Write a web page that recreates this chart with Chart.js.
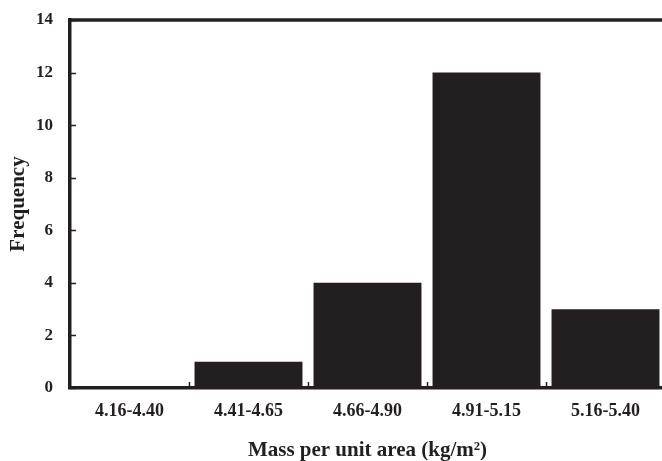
<!DOCTYPE html>
<html><head><meta charset="utf-8">
<script src="https://cdn.jsdelivr.net/npm/chart.js@4/dist/chart.umd.min.js"></script>
<style>html,body{margin:0;padding:0;overflow:hidden;background:#fff}#wrap{width:665px;height:461px;position:relative}</style>
</head><body><div id="wrap"><canvas id="c"></canvas></div>
<script>
const categories = ["4.16-4.40","4.41-4.65","4.66-4.90","4.91-5.15","5.16-5.40"];
const frequency = [0,1,4,12,3];
const yTicks = [0,2,4,6,8,10,12,14];
const xTitle = "Mass per unit area (kg/m\u00B2)";
const yTitle = "Frequency";
const ink = "#231f20";
const font = "'Liberation Serif','Times New Roman',serif";

const frameAndTicks = {
  id:'frameAndTicks',
  afterDatasetsDraw(chart){
    const {ctx, chartArea:a, scales:{x,y}} = chart;
    ctx.save(); ctx.strokeStyle = ink;
    ctx.lineWidth = 3.5;
    ctx.beginPath(); ctx.moveTo(a.left-1.75, a.top); ctx.lineTo(a.right, a.top); ctx.stroke();
    ctx.lineWidth = 1.5;
    yTicks.forEach(v=>{ const py = Math.round(y.getPixelForValue(v))+0.5; ctx.beginPath(); ctx.moveTo(a.left, py); ctx.lineTo(a.left+6, py); ctx.stroke(); });
    for(let i=1;i<categories.length;i++){ const px = Math.round((x.getPixelForValue(i-1)+x.getPixelForValue(i))/2)+0.5; ctx.beginPath(); ctx.moveTo(px, a.bottom); ctx.lineTo(px, a.bottom-6); ctx.stroke(); }
    ctx.restore();
  }
};

new Chart(document.getElementById('c'), {
  type:'bar',
  data:{labels:categories, datasets:[{data:frequency, backgroundColor:ink, borderWidth:0, categoryPercentage:1, barPercentage:0.907}]},
  options:{
    responsive:true, maintainAspectRatio:false, animation:false,
    layout:{padding:{top:20,left:0,right:0,bottom:0}},
    plugins:{legend:{display:false}, tooltip:{enabled:false}},
    scales:{
      x:{position:'bottom', grid:{display:false, drawTicks:false}, border:{display:true,color:ink,width:3.5},
         ticks:{color:ink, font:{family:font,size:18,weight:'bold'}, padding:12.2, maxRotation:0},
         title:{display:true, text:xTitle, color:ink, font:{family:font,size:21,weight:'bold',lineHeight:1}, padding:{top:6,bottom:0}}},
      y:{min:0,max:14,
         grid:{display:true, drawOnChartArea:false, drawTicks:true, tickLength:10, color:'rgba(0,0,0,0)', tickColor:'rgba(0,0,0,0)'},
         border:{display:true,color:ink,width:3.5},
         afterBuildTicks(s){ s.ticks = yTicks.map(v=>({value:v})); },
         ticks:{color:ink, font:{family:font,size:17,weight:'bold'}, padding:7},
         title:{display:true, text:yTitle, color:ink, font:{family:font,size:21,weight:'bold',lineHeight:1}, padding:{top:8,bottom:0}}}
    }
  },
  plugins:[frameAndTicks]
});
</script></body></html>
